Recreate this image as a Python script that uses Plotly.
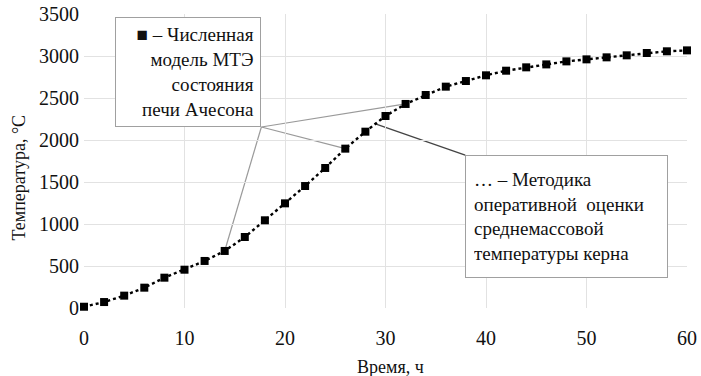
import plotly.graph_objects as go

time_h = list(range(0, 62, 2))
temp_c = [15, 71, 147, 242, 361, 456, 560, 679, 845, 1044, 1246, 1452, 1667, 1897,
          2099, 2286, 2429, 2536, 2635, 2702, 2770, 2825, 2865, 2900, 2936, 2960,
          2984, 3008, 3036, 3056, 3067]
x_ticks = [0, 10, 20, 30, 40, 50, 60]
y_ticks = [0, 500, 1000, 1500, 2000, 2500, 3000, 3500]

label_model = "■ – Численная<br>модель МТЭ<br>состояния<br>печи Ачесона"
label_method = "… – Методика<br>оперативной\u00a0 оценки<br>среднемассовой<br>температуры керна"
x_title = "Время, ч"
y_title = "Температура, °С"

FONT = "Liberation Serif"

# plot area in window pixels (body margin removed below)
PL, PR, PT, PB = 83.5, 687.0, 14.0, 308.0
PW, PH = PR - PL, PB - PT


def px(x):
    return (x - PL) / PW


def py(y):
    return (PB - y) / PH


fig = go.Figure()
fig.add_trace(go.Scatter(
    x=time_h, y=temp_c, mode="lines+markers",
    line=dict(color="black", width=2.4, dash="dot"),
    marker=dict(symbol="square", size=8, color="black"),
    showlegend=False, cliponaxis=False,
))

# callout lines from box 1 corner to markers
c1 = (17.65, 2155)
for i in (7, 13, 16):
    fig.add_shape(type="line", x0=c1[0], y0=c1[1], x1=time_h[i], y1=temp_c[i],
                  xref="x", yref="y", line=dict(color="#9a9a9a", width=1.2), layer="below")
# callout line from box 2 corner
c2 = (37.93, 1821)
fig.add_shape(type="line", x0=c2[0], y0=c2[1],
              x1=(time_h[14] + time_h[15]) / 2, y1=(temp_c[14] + temp_c[15]) / 2,
              xref="x", yref="y", line=dict(color="#444444", width=1.3), layer="below")

fig.add_annotation(text=label_model, xref="paper", yref="paper",
                   x=px(188), y=py(72),
                   xanchor="center", yanchor="middle", showarrow=False,
                   align="right", width=132, height=96, borderpad=6,
                   bordercolor="#a0a0a0", borderwidth=1, bgcolor="white",
                   font=dict(family=FONT, size=19, color="#111"))
fig.add_annotation(text=label_method, xref="paper", yref="paper",
                   x=px(566.5), y=py(216.5),
                   xanchor="center", yanchor="middle", showarrow=False,
                   align="left", width=185, height=105, borderpad=8,
                   bordercolor="#a0a0a0", borderwidth=1, bgcolor="white",
                   font=dict(family=FONT, size=19, color="#111"))

fig.add_annotation(text=y_title, xref="paper", yref="paper",
                   x=px(18), y=py(178),
                   xanchor="center", yanchor="middle", showarrow=False,
                   textangle=-90, font=dict(family=FONT, size=18, color="#111"))

fig.add_annotation(text=x_title, xref="paper", yref="paper",
                   x=px(390), y=py(367),
                   xanchor="center", yanchor="middle", showarrow=False,
                   font=dict(family=FONT, size=18, color="#111"))

fig.update_layout(
    width=701, height=376,
    margin=dict(l=PL, r=701 - PR, t=PT, b=376 - PB, autoexpand=False),
    paper_bgcolor="white", plot_bgcolor="white",
    font=dict(family=FONT, size=20, color="#111"),
    xaxis=dict(range=[0, 60], tickvals=x_ticks, showgrid=True, gridcolor="#e2e2e2",
               gridwidth=1, zeroline=False, showline=False, ticklabelstandoff=16,
               automargin=False, ticklabeloverflow="allow"),
    yaxis=dict(range=[0, 3500], tickvals=y_ticks, showgrid=True, gridcolor="#e2e2e2",
               gridwidth=1, zeroline=False, showline=False, ticklabelstandoff=4,
               automargin=False, ticklabeloverflow="allow"),
)

fig.write_html("out.html", config={"displayModeBar": False},
               post_script="document.body.style.margin='0';")
